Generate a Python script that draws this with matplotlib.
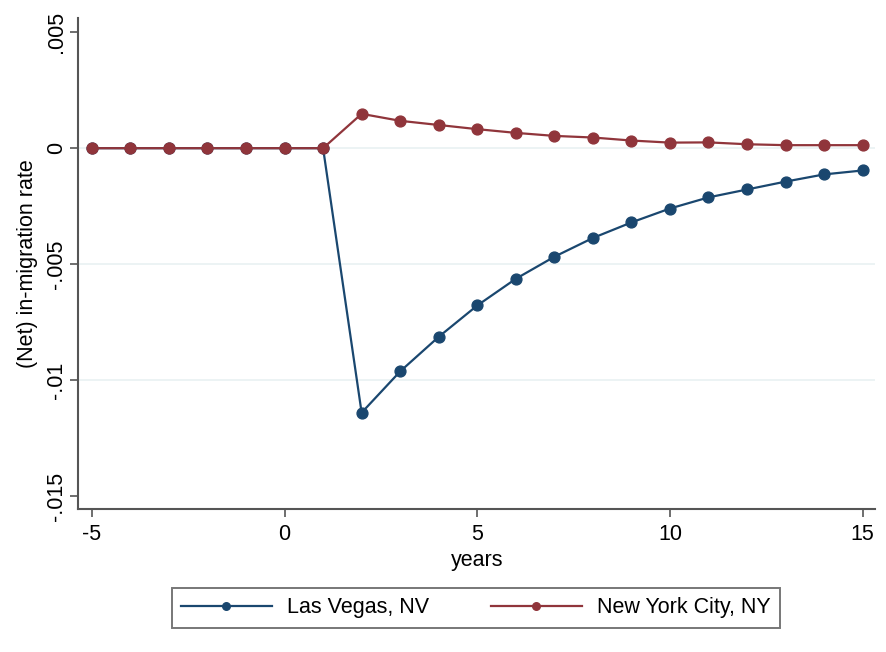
import numpy as np
import matplotlib.pyplot as plt

plt.rcParams['font.family'] = ['Liberation Sans', 'DejaVu Sans']
plt.rcParams['axes.unicode_minus'] = False

# data
years = list(range(-5, 16))
las_vegas = [0, 0, 0, 0, 0, 0, 0,
             -0.0114, -0.00962, -0.00813, -0.00678, -0.00563, -0.00468, -0.00387,
             -0.0032, -0.0026, -0.00212, -0.00178, -0.00144, -0.00113, -0.00096]
new_york = [0, 0, 0, 0, 0, 0, 0,
            0.00148, 0.00118, 0.001, 0.00082, 0.00066, 0.00053, 0.00046,
            0.00033, 0.00024, 0.00025, 0.00017, 0.00013, 0.00013, 0.00013]
yticks = [0.005, 0, -0.005, -0.01, -0.015]
ytick_labels = ['.005', '0', '-.005', '-.01', '-.015']
grid_at = [0, -0.005, -0.01]
xticks = [-5, 0, 5, 10, 15]

navy = '#1a476f'
maroon = '#90353b'

fig = plt.figure(figsize=(8.86, 6.52), dpi=100)
ax = fig.add_axes([0.088, 0.219, 0.9, 0.753])

# light horizontal grid lines (Stata style, not at the axis ends)
for g in grid_at:
    ax.axhline(g, color='#eaf2f3', lw=1.3, zorder=1)

ax.plot(years, las_vegas, color=navy, lw=1.6, marker='o', ms=7.8, label='Las Vegas, NV', zorder=3)
ax.plot(years, new_york, color=maroon, lw=1.6, marker='o', ms=7.8, label='New York City, NY', zorder=3)

ax.set_xlim(-5.36, 15.33)
ax.set_ylim(-0.01556, 0.0056)
ax.set_yticks(yticks)
ax.set_yticklabels(ytick_labels, rotation=90, va='center')
ax.set_xticks(xticks)
ax.tick_params(labelsize=15.5, length=6, width=1.2, color='#555555')
ax.tick_params(axis='x', pad=5)
ax.tick_params(axis='y', pad=2)

for s in ['top', 'right']:
    ax.spines[s].set_visible(False)
for s in ['left', 'bottom']:
    ax.spines[s].set_color('#555555')
    ax.spines[s].set_linewidth(1.5)

ax.set_xlabel('years', fontsize=15.5, labelpad=3)
ax.set_ylabel('(Net) in-migration rate', fontsize=15.5, labelpad=6)

leg = fig.legend(loc='center', bbox_to_anchor=(0.537, 0.0675), ncol=2, fontsize=15.5,
                 frameon=True, fancybox=False, edgecolor='#555555', borderpad=0.45,
                 handlelength=4.2, handletextpad=0.7, columnspacing=2.9, markerscale=0.7)
leg.get_frame().set_linewidth(1.4)

fig.savefig('out.png', dpi=100, facecolor='white')
